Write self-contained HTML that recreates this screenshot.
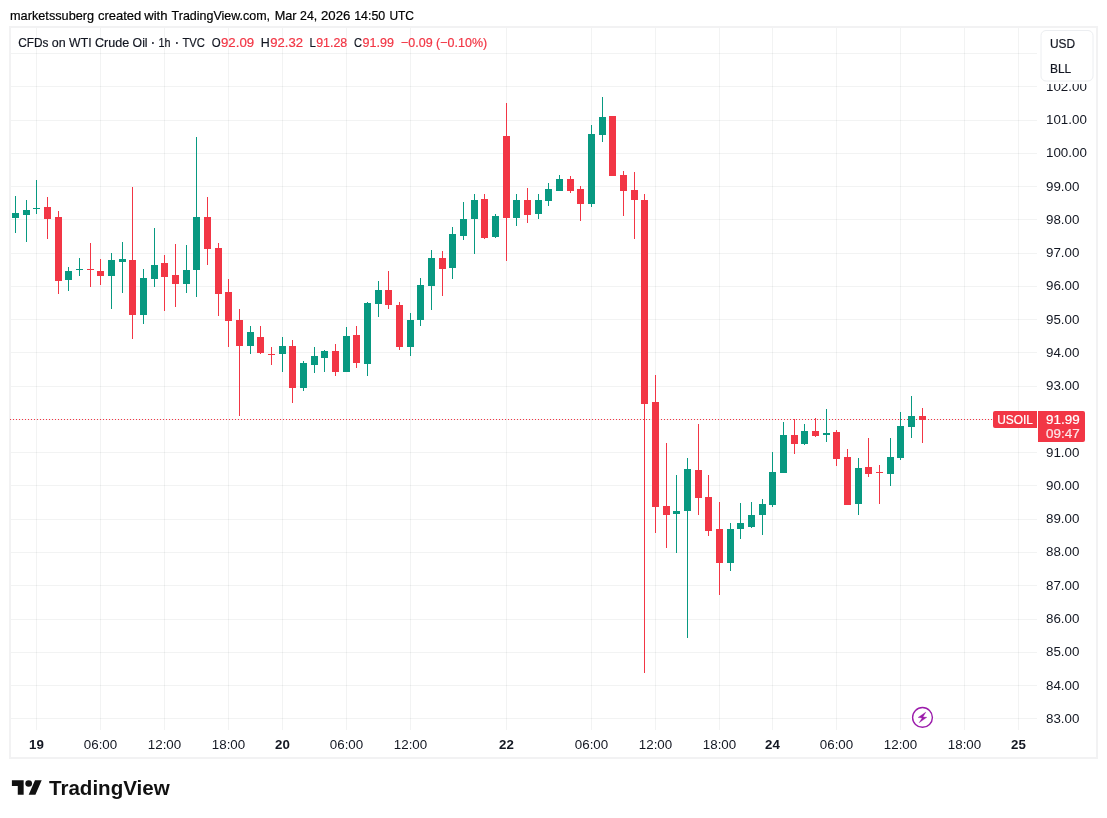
<!DOCTYPE html>
<html lang="en"><head><meta charset="utf-8"><title>CFDs on WTI Crude Oil</title><style>html,body{margin:0;padding:0;background:#fff}body{width:1107px;height:818px;overflow:hidden}</style></head><body>
<svg width="1107" height="818" viewBox="0 0 1107 818" style="display:block" font-family='"Liberation Sans", sans-serif'>
<rect width="1107" height="818" fill="#fff"/>
<g shape-rendering="crispEdges">
<rect x="10" y="27" width="1087" height="731" fill="#fff" stroke="#f2f2f3" stroke-width="2"/>
<rect x="11" y="718" width="1026" height="1" fill="rgba(42,46,57,0.06)"/>
<rect x="11" y="685" width="1026" height="1" fill="rgba(42,46,57,0.06)"/>
<rect x="11" y="652" width="1026" height="1" fill="rgba(42,46,57,0.06)"/>
<rect x="11" y="619" width="1026" height="1" fill="rgba(42,46,57,0.06)"/>
<rect x="11" y="585" width="1026" height="1" fill="rgba(42,46,57,0.06)"/>
<rect x="11" y="552" width="1026" height="1" fill="rgba(42,46,57,0.06)"/>
<rect x="11" y="519" width="1026" height="1" fill="rgba(42,46,57,0.06)"/>
<rect x="11" y="485" width="1026" height="1" fill="rgba(42,46,57,0.06)"/>
<rect x="11" y="452" width="1026" height="1" fill="rgba(42,46,57,0.06)"/>
<rect x="11" y="419" width="1026" height="1" fill="rgba(42,46,57,0.06)"/>
<rect x="11" y="386" width="1026" height="1" fill="rgba(42,46,57,0.06)"/>
<rect x="11" y="352" width="1026" height="1" fill="rgba(42,46,57,0.06)"/>
<rect x="11" y="319" width="1026" height="1" fill="rgba(42,46,57,0.06)"/>
<rect x="11" y="286" width="1026" height="1" fill="rgba(42,46,57,0.06)"/>
<rect x="11" y="253" width="1026" height="1" fill="rgba(42,46,57,0.06)"/>
<rect x="11" y="219" width="1026" height="1" fill="rgba(42,46,57,0.06)"/>
<rect x="11" y="186" width="1026" height="1" fill="rgba(42,46,57,0.06)"/>
<rect x="11" y="153" width="1026" height="1" fill="rgba(42,46,57,0.06)"/>
<rect x="11" y="120" width="1026" height="1" fill="rgba(42,46,57,0.06)"/>
<rect x="11" y="86" width="1026" height="1" fill="rgba(42,46,57,0.06)"/>
<rect x="11" y="53" width="1026" height="1" fill="rgba(42,46,57,0.06)"/>
<rect x="36" y="28" width="1" height="702" fill="rgba(42,46,57,0.06)"/>
<rect x="100" y="28" width="1" height="702" fill="rgba(42,46,57,0.06)"/>
<rect x="164" y="28" width="1" height="702" fill="rgba(42,46,57,0.06)"/>
<rect x="228" y="28" width="1" height="702" fill="rgba(42,46,57,0.06)"/>
<rect x="282" y="28" width="1" height="702" fill="rgba(42,46,57,0.06)"/>
<rect x="346" y="28" width="1" height="702" fill="rgba(42,46,57,0.06)"/>
<rect x="410" y="28" width="1" height="702" fill="rgba(42,46,57,0.06)"/>
<rect x="506" y="28" width="1" height="702" fill="rgba(42,46,57,0.06)"/>
<rect x="591" y="28" width="1" height="702" fill="rgba(42,46,57,0.06)"/>
<rect x="655" y="28" width="1" height="702" fill="rgba(42,46,57,0.06)"/>
<rect x="719" y="28" width="1" height="702" fill="rgba(42,46,57,0.06)"/>
<rect x="772" y="28" width="1" height="702" fill="rgba(42,46,57,0.06)"/>
<rect x="836" y="28" width="1" height="702" fill="rgba(42,46,57,0.06)"/>
<rect x="900" y="28" width="1" height="702" fill="rgba(42,46,57,0.06)"/>
<rect x="964" y="28" width="1" height="702" fill="rgba(42,46,57,0.06)"/>
<rect x="1018" y="28" width="1" height="702" fill="rgba(42,46,57,0.06)"/>
</g>
<line x1="10" y1="419.5" x2="1037" y2="419.5" stroke="#f23645" stroke-width="1" stroke-dasharray="1 2" shape-rendering="crispEdges"/>
<g shape-rendering="crispEdges">
<rect x="15" y="196" width="1" height="37" fill="#089981"/>
<rect x="12" y="213" width="7" height="5" fill="#089981"/>
<rect x="26" y="200" width="1" height="42" fill="#089981"/>
<rect x="23" y="210" width="7" height="5" fill="#089981"/>
<rect x="36" y="180" width="1" height="34" fill="#089981"/>
<rect x="33" y="208" width="7" height="1" fill="#089981"/>
<rect x="47" y="197" width="1" height="42" fill="#f23645"/>
<rect x="44" y="207" width="7" height="12" fill="#f23645"/>
<rect x="58" y="211" width="1" height="83" fill="#f23645"/>
<rect x="55" y="217" width="7" height="64" fill="#f23645"/>
<rect x="68" y="267" width="1" height="24" fill="#089981"/>
<rect x="65" y="271" width="7" height="9" fill="#089981"/>
<rect x="79" y="258" width="1" height="18" fill="#089981"/>
<rect x="76" y="269" width="7" height="1" fill="#089981"/>
<rect x="90" y="243" width="1" height="44" fill="#f23645"/>
<rect x="87" y="269" width="7" height="1" fill="#f23645"/>
<rect x="100" y="259" width="1" height="26" fill="#f23645"/>
<rect x="97" y="271" width="7" height="5" fill="#f23645"/>
<rect x="111" y="253" width="1" height="56" fill="#089981"/>
<rect x="108" y="260" width="7" height="16" fill="#089981"/>
<rect x="122" y="242" width="1" height="51" fill="#089981"/>
<rect x="119" y="259" width="7" height="3" fill="#089981"/>
<rect x="132" y="187" width="1" height="152" fill="#f23645"/>
<rect x="129" y="260" width="7" height="55" fill="#f23645"/>
<rect x="143" y="269" width="1" height="55" fill="#089981"/>
<rect x="140" y="278" width="7" height="37" fill="#089981"/>
<rect x="154" y="228" width="1" height="59" fill="#089981"/>
<rect x="151" y="265" width="7" height="14" fill="#089981"/>
<rect x="164" y="255" width="1" height="56" fill="#f23645"/>
<rect x="161" y="263" width="7" height="14" fill="#f23645"/>
<rect x="175" y="244" width="1" height="63" fill="#f23645"/>
<rect x="172" y="275" width="7" height="9" fill="#f23645"/>
<rect x="186" y="245" width="1" height="48" fill="#089981"/>
<rect x="183" y="270" width="7" height="14" fill="#089981"/>
<rect x="196" y="137" width="1" height="160" fill="#089981"/>
<rect x="193" y="217" width="7" height="53" fill="#089981"/>
<rect x="207" y="197" width="1" height="68" fill="#f23645"/>
<rect x="204" y="217" width="7" height="32" fill="#f23645"/>
<rect x="218" y="243" width="1" height="73" fill="#f23645"/>
<rect x="215" y="248" width="7" height="46" fill="#f23645"/>
<rect x="228" y="279" width="1" height="68" fill="#f23645"/>
<rect x="225" y="292" width="7" height="29" fill="#f23645"/>
<rect x="239" y="309" width="1" height="107" fill="#f23645"/>
<rect x="236" y="320" width="7" height="26" fill="#f23645"/>
<rect x="250" y="326" width="1" height="28" fill="#089981"/>
<rect x="247" y="332" width="7" height="14" fill="#089981"/>
<rect x="260" y="326" width="1" height="28" fill="#f23645"/>
<rect x="257" y="337" width="7" height="16" fill="#f23645"/>
<rect x="271" y="347" width="1" height="18" fill="#f23645"/>
<rect x="268" y="354" width="7" height="1" fill="#f23645"/>
<rect x="282" y="337" width="1" height="35" fill="#089981"/>
<rect x="279" y="346" width="7" height="8" fill="#089981"/>
<rect x="292" y="340" width="1" height="63" fill="#f23645"/>
<rect x="289" y="346" width="7" height="42" fill="#f23645"/>
<rect x="303" y="361" width="1" height="30" fill="#089981"/>
<rect x="300" y="363" width="7" height="25" fill="#089981"/>
<rect x="314" y="347" width="1" height="26" fill="#089981"/>
<rect x="311" y="356" width="7" height="9" fill="#089981"/>
<rect x="324" y="350" width="1" height="22" fill="#089981"/>
<rect x="321" y="351" width="7" height="7" fill="#089981"/>
<rect x="335" y="344" width="1" height="32" fill="#f23645"/>
<rect x="332" y="351" width="7" height="21" fill="#f23645"/>
<rect x="346" y="327" width="1" height="45" fill="#089981"/>
<rect x="343" y="336" width="7" height="36" fill="#089981"/>
<rect x="356" y="326" width="1" height="42" fill="#f23645"/>
<rect x="353" y="335" width="7" height="28" fill="#f23645"/>
<rect x="367" y="302" width="1" height="74" fill="#089981"/>
<rect x="364" y="303" width="7" height="61" fill="#089981"/>
<rect x="378" y="281" width="1" height="36" fill="#089981"/>
<rect x="375" y="290" width="7" height="14" fill="#089981"/>
<rect x="388" y="271" width="1" height="38" fill="#f23645"/>
<rect x="385" y="290" width="7" height="15" fill="#f23645"/>
<rect x="399" y="302" width="1" height="48" fill="#f23645"/>
<rect x="396" y="305" width="7" height="42" fill="#f23645"/>
<rect x="410" y="313" width="1" height="43" fill="#089981"/>
<rect x="407" y="320" width="7" height="27" fill="#089981"/>
<rect x="420" y="278" width="1" height="48" fill="#089981"/>
<rect x="417" y="285" width="7" height="35" fill="#089981"/>
<rect x="431" y="250" width="1" height="60" fill="#089981"/>
<rect x="428" y="258" width="7" height="28" fill="#089981"/>
<rect x="442" y="251" width="1" height="45" fill="#f23645"/>
<rect x="439" y="258" width="7" height="11" fill="#f23645"/>
<rect x="452" y="227" width="1" height="52" fill="#089981"/>
<rect x="449" y="234" width="7" height="34" fill="#089981"/>
<rect x="463" y="202" width="1" height="38" fill="#089981"/>
<rect x="460" y="219" width="7" height="17" fill="#089981"/>
<rect x="474" y="194" width="1" height="60" fill="#089981"/>
<rect x="471" y="200" width="7" height="19" fill="#089981"/>
<rect x="484" y="194" width="1" height="45" fill="#f23645"/>
<rect x="481" y="199" width="7" height="39" fill="#f23645"/>
<rect x="495" y="214" width="1" height="24" fill="#089981"/>
<rect x="492" y="216" width="7" height="21" fill="#089981"/>
<rect x="506" y="103" width="1" height="158" fill="#f23645"/>
<rect x="503" y="136" width="7" height="82" fill="#f23645"/>
<rect x="516" y="194" width="1" height="32" fill="#089981"/>
<rect x="513" y="200" width="7" height="18" fill="#089981"/>
<rect x="527" y="188" width="1" height="35" fill="#f23645"/>
<rect x="524" y="200" width="7" height="15" fill="#f23645"/>
<rect x="538" y="194" width="1" height="25" fill="#089981"/>
<rect x="535" y="200" width="7" height="14" fill="#089981"/>
<rect x="548" y="183" width="1" height="23" fill="#089981"/>
<rect x="545" y="189" width="7" height="12" fill="#089981"/>
<rect x="559" y="175" width="1" height="16" fill="#089981"/>
<rect x="556" y="179" width="7" height="12" fill="#089981"/>
<rect x="570" y="176" width="1" height="17" fill="#f23645"/>
<rect x="567" y="179" width="7" height="12" fill="#f23645"/>
<rect x="580" y="186" width="1" height="35" fill="#f23645"/>
<rect x="577" y="189" width="7" height="15" fill="#f23645"/>
<rect x="591" y="125" width="1" height="82" fill="#089981"/>
<rect x="588" y="134" width="7" height="70" fill="#089981"/>
<rect x="602" y="97" width="1" height="45" fill="#089981"/>
<rect x="599" y="117" width="7" height="18" fill="#089981"/>
<rect x="612" y="116" width="1" height="60" fill="#f23645"/>
<rect x="609" y="116" width="7" height="60" fill="#f23645"/>
<rect x="623" y="171" width="1" height="45" fill="#f23645"/>
<rect x="620" y="175" width="7" height="16" fill="#f23645"/>
<rect x="634" y="172" width="1" height="67" fill="#f23645"/>
<rect x="631" y="190" width="7" height="10" fill="#f23645"/>
<rect x="644" y="194" width="1" height="479" fill="#f23645"/>
<rect x="641" y="200" width="7" height="204" fill="#f23645"/>
<rect x="655" y="375" width="1" height="158" fill="#f23645"/>
<rect x="652" y="402" width="7" height="105" fill="#f23645"/>
<rect x="666" y="443" width="1" height="105" fill="#f23645"/>
<rect x="663" y="506" width="7" height="9" fill="#f23645"/>
<rect x="676" y="475" width="1" height="78" fill="#089981"/>
<rect x="673" y="511" width="7" height="3" fill="#089981"/>
<rect x="687" y="458" width="1" height="180" fill="#089981"/>
<rect x="684" y="469" width="7" height="42" fill="#089981"/>
<rect x="698" y="424" width="1" height="91" fill="#f23645"/>
<rect x="695" y="470" width="7" height="28" fill="#f23645"/>
<rect x="708" y="475" width="1" height="61" fill="#f23645"/>
<rect x="705" y="497" width="7" height="34" fill="#f23645"/>
<rect x="719" y="502" width="1" height="93" fill="#f23645"/>
<rect x="716" y="529" width="7" height="34" fill="#f23645"/>
<rect x="730" y="523" width="1" height="48" fill="#089981"/>
<rect x="727" y="529" width="7" height="34" fill="#089981"/>
<rect x="740" y="503" width="1" height="36" fill="#089981"/>
<rect x="737" y="523" width="7" height="6" fill="#089981"/>
<rect x="751" y="502" width="1" height="26" fill="#089981"/>
<rect x="748" y="515" width="7" height="12" fill="#089981"/>
<rect x="762" y="499" width="1" height="36" fill="#089981"/>
<rect x="759" y="504" width="7" height="11" fill="#089981"/>
<rect x="772" y="452" width="1" height="55" fill="#089981"/>
<rect x="769" y="472" width="7" height="33" fill="#089981"/>
<rect x="783" y="422" width="1" height="51" fill="#089981"/>
<rect x="780" y="435" width="7" height="38" fill="#089981"/>
<rect x="794" y="419" width="1" height="35" fill="#f23645"/>
<rect x="791" y="435" width="7" height="9" fill="#f23645"/>
<rect x="804" y="424" width="1" height="21" fill="#089981"/>
<rect x="801" y="431" width="7" height="13" fill="#089981"/>
<rect x="815" y="418" width="1" height="19" fill="#f23645"/>
<rect x="812" y="431" width="7" height="5" fill="#f23645"/>
<rect x="826" y="409" width="1" height="33" fill="#089981"/>
<rect x="823" y="433" width="7" height="2" fill="#089981"/>
<rect x="836" y="430" width="1" height="36" fill="#f23645"/>
<rect x="833" y="432" width="7" height="27" fill="#f23645"/>
<rect x="847" y="449" width="1" height="56" fill="#f23645"/>
<rect x="844" y="457" width="7" height="48" fill="#f23645"/>
<rect x="858" y="458" width="1" height="57" fill="#089981"/>
<rect x="855" y="468" width="7" height="36" fill="#089981"/>
<rect x="868" y="438" width="1" height="39" fill="#f23645"/>
<rect x="865" y="467" width="7" height="7" fill="#f23645"/>
<rect x="879" y="465" width="1" height="39" fill="#f23645"/>
<rect x="876" y="472" width="7" height="1" fill="#f23645"/>
<rect x="890" y="438" width="1" height="48" fill="#089981"/>
<rect x="887" y="457" width="7" height="17" fill="#089981"/>
<rect x="900" y="412" width="1" height="48" fill="#089981"/>
<rect x="897" y="426" width="7" height="32" fill="#089981"/>
<rect x="911" y="396" width="1" height="42" fill="#089981"/>
<rect x="908" y="416" width="7" height="11" fill="#089981"/>
<rect x="922" y="408" width="1" height="35" fill="#f23645"/>
<rect x="919" y="416" width="7" height="4" fill="#f23645"/>
</g>
<text transform="translate(10.00,20) scale(0.9793,1)" font-size="13" font-weight="normal" fill="#000" stroke="#000" stroke-width="0.2" >marketssuberg</text>
<text transform="translate(97.90,20) scale(0.9986,1)" font-size="13" font-weight="normal" fill="#000" stroke="#000" stroke-width="0.2" >created</text>
<text transform="translate(144.20,20) scale(1.0079,1)" font-size="13" font-weight="normal" fill="#000" stroke="#000" stroke-width="0.2" >with</text>
<text transform="translate(171.60,20) scale(0.9610,1)" font-size="13" font-weight="normal" fill="#000" stroke="#000" stroke-width="0.2" >TradingView.com,</text>
<text transform="translate(274.70,20) scale(0.9782,1)" font-size="13" font-weight="normal" fill="#000" stroke="#000" stroke-width="0.2" >Mar</text>
<text transform="translate(300.00,20) scale(0.9518,1)" font-size="13" font-weight="normal" fill="#000" stroke="#000" stroke-width="0.2" >24,</text>
<text transform="translate(321.00,20) scale(1.0166,1)" font-size="13" font-weight="normal" fill="#000" stroke="#000" stroke-width="0.2" >2026</text>
<text transform="translate(354.20,20) scale(0.9560,1)" font-size="13" font-weight="normal" fill="#000" stroke="#000" stroke-width="0.2" >14:50</text>
<text transform="translate(389.40,20) scale(0.9207,1)" font-size="13" font-weight="normal" fill="#000" stroke="#000" stroke-width="0.2" >UTC</text>
<text transform="translate(18.20,47) scale(0.9122,1)" font-size="13" font-weight="normal" fill="#131722" stroke="#131722" stroke-width="0.2" >CFDs</text>
<text transform="translate(51.80,47) scale(0.9613,1)" font-size="13" font-weight="normal" fill="#131722" stroke="#131722" stroke-width="0.2" >on</text>
<text transform="translate(69.10,47) scale(0.9445,1)" font-size="13" font-weight="normal" fill="#131722" stroke="#131722" stroke-width="0.2" >WTI</text>
<text transform="translate(95.00,47) scale(0.9659,1)" font-size="13" font-weight="normal" fill="#131722" stroke="#131722" stroke-width="0.2" >Crude</text>
<text transform="translate(132.60,47) scale(0.9441,1)" font-size="13" font-weight="normal" fill="#131722" stroke="#131722" stroke-width="0.2" >Oil</text>
<text transform="translate(150.60,48.2) scale(0.8008,1)" font-size="18" font-weight="normal" fill="#131722" stroke="#131722" stroke-width="0.2" >·</text>
<text transform="translate(158.60,47) scale(0.8299,1)" font-size="13" font-weight="normal" fill="#131722" stroke="#131722" stroke-width="0.2" >1h</text>
<text transform="translate(174.60,48.2) scale(0.8008,1)" font-size="18" font-weight="normal" fill="#131722" stroke="#131722" stroke-width="0.2" >·</text>
<text transform="translate(182.50,47) scale(0.8615,1)" font-size="13" font-weight="normal" fill="#131722" stroke="#131722" stroke-width="0.2" >TVC</text>
<text transform="translate(211.80,47) scale(0.8802,1)" font-size="13" font-weight="normal" fill="#131722" stroke="#131722" stroke-width="0.2" >O</text>
<text transform="translate(221.00,47) scale(1.0205,1)" font-size="13" font-weight="normal" fill="#f23645" stroke="#f23645" stroke-width="0.2" >92.09</text>
<text transform="translate(260.80,47) scale(0.9586,1)" font-size="13" font-weight="normal" fill="#131722" stroke="#131722" stroke-width="0.2" >H</text>
<text transform="translate(270.20,47) scale(1.0082,1)" font-size="13" font-weight="normal" fill="#f23645" stroke="#f23645" stroke-width="0.2" >92.32</text>
<text transform="translate(309.60,47) scale(0.8852,1)" font-size="13" font-weight="normal" fill="#131722" stroke="#131722" stroke-width="0.2" >L</text>
<text transform="translate(316.20,47) scale(0.9529,1)" font-size="13" font-weight="normal" fill="#f23645" stroke="#f23645" stroke-width="0.2" >91.28</text>
<text transform="translate(354.00,47) scale(0.8521,1)" font-size="13" font-weight="normal" fill="#131722" stroke="#131722" stroke-width="0.2" >C</text>
<text transform="translate(362.60,47) scale(0.9652,1)" font-size="13" font-weight="normal" fill="#f23645" stroke="#f23645" stroke-width="0.2" >91.99</text>
<text transform="translate(401.00,47) scale(0.9619,1)" font-size="13" font-weight="normal" fill="#f23645" stroke="#f23645" stroke-width="0.2" >−0.09 (−0.10%)</text>
<text transform="translate(1046.00,722.8) scale(1.0678,1)" font-size="12.5" font-weight="normal" fill="#131722" stroke="#131722" stroke-width="0" >83.00</text>
<text transform="translate(1046.00,689.53) scale(1.0678,1)" font-size="12.5" font-weight="normal" fill="#131722" stroke="#131722" stroke-width="0" >84.00</text>
<text transform="translate(1046.00,656.27) scale(1.0678,1)" font-size="12.5" font-weight="normal" fill="#131722" stroke="#131722" stroke-width="0" >85.00</text>
<text transform="translate(1046.00,623.01) scale(1.0678,1)" font-size="12.5" font-weight="normal" fill="#131722" stroke="#131722" stroke-width="0" >86.00</text>
<text transform="translate(1046.00,589.75) scale(1.0678,1)" font-size="12.5" font-weight="normal" fill="#131722" stroke="#131722" stroke-width="0" >87.00</text>
<text transform="translate(1046.00,556.48) scale(1.0678,1)" font-size="12.5" font-weight="normal" fill="#131722" stroke="#131722" stroke-width="0" >88.00</text>
<text transform="translate(1046.00,523.22) scale(1.0678,1)" font-size="12.5" font-weight="normal" fill="#131722" stroke="#131722" stroke-width="0" >89.00</text>
<text transform="translate(1046.00,489.96) scale(1.0678,1)" font-size="12.5" font-weight="normal" fill="#131722" stroke="#131722" stroke-width="0" >90.00</text>
<text transform="translate(1046.00,456.69) scale(1.0678,1)" font-size="12.5" font-weight="normal" fill="#131722" stroke="#131722" stroke-width="0" >91.00</text>
<text transform="translate(1046.00,423.43) scale(1.0678,1)" font-size="12.5" font-weight="normal" fill="#131722" stroke="#131722" stroke-width="0" >92.00</text>
<text transform="translate(1046.00,390.17) scale(1.0678,1)" font-size="12.5" font-weight="normal" fill="#131722" stroke="#131722" stroke-width="0" >93.00</text>
<text transform="translate(1046.00,356.9) scale(1.0678,1)" font-size="12.5" font-weight="normal" fill="#131722" stroke="#131722" stroke-width="0" >94.00</text>
<text transform="translate(1046.00,323.64) scale(1.0678,1)" font-size="12.5" font-weight="normal" fill="#131722" stroke="#131722" stroke-width="0" >95.00</text>
<text transform="translate(1046.00,290.38) scale(1.0678,1)" font-size="12.5" font-weight="normal" fill="#131722" stroke="#131722" stroke-width="0" >96.00</text>
<text transform="translate(1046.00,257.12) scale(1.0678,1)" font-size="12.5" font-weight="normal" fill="#131722" stroke="#131722" stroke-width="0" >97.00</text>
<text transform="translate(1046.00,223.85) scale(1.0678,1)" font-size="12.5" font-weight="normal" fill="#131722" stroke="#131722" stroke-width="0" >98.00</text>
<text transform="translate(1046.00,190.59) scale(1.0678,1)" font-size="12.5" font-weight="normal" fill="#131722" stroke="#131722" stroke-width="0" >99.00</text>
<text transform="translate(1046.00,157.33) scale(1.0698,1)" font-size="12.5" font-weight="normal" fill="#131722" stroke="#131722" stroke-width="0" >100.00</text>
<text transform="translate(1046.00,124.06) scale(1.0698,1)" font-size="12.5" font-weight="normal" fill="#131722" stroke="#131722" stroke-width="0" >101.00</text>
<text transform="translate(1046.00,90.8) scale(1.0698,1)" font-size="12.5" font-weight="normal" fill="#131722" stroke="#131722" stroke-width="0" >102.00</text>
<rect x="1038" y="28" width="58" height="56" fill="#fff"/>
<rect x="1041" y="30.5" width="52" height="50.5" rx="5" fill="#fff" stroke="#eceef1" stroke-width="1"/>
<text transform="translate(1050.00,47.8) scale(0.9946,1)" font-size="12" font-weight="normal" fill="#131722" stroke="#131722" stroke-width="0.2" >USD</text>
<text transform="translate(1050.00,72.5) scale(0.9976,1)" font-size="12" font-weight="normal" fill="#131722" stroke="#131722" stroke-width="0.2" >BLL</text>
<path d="M995 411h42v17h-42a2 2 0 0 1-2-2v-13a2 2 0 0 1 2-2z" fill="#f23645"/>
<path d="M1038 411h45a2 2 0 0 1 2 2v27a2 2 0 0 1-2 2h-45z" fill="#f23645"/>
<text transform="translate(997.20,423.8) scale(0.9941,1)" font-size="12" font-weight="normal" fill="#fff" stroke="#fff" stroke-width="0.2" >USOIL</text>
<text transform="translate(1046.00,423.8) scale(1.0741,1)" font-size="12.5" font-weight="normal" fill="#fff" stroke="#fff" stroke-width="0.2" >91.99</text>
<text transform="translate(1046.00,437.8) scale(1.0741,1)" font-size="12.5" font-weight="normal" fill="#fff" stroke="#fff" stroke-width="0.2" fill-opacity="0.82">09:47</text>
<text transform="translate(29.10,749.2) scale(1.0644,1)" font-size="12.5" font-weight="bold" fill="#131722" stroke="#131722" stroke-width="0" >19</text>
<text transform="translate(275.10,749.2) scale(1.0644,1)" font-size="12.5" font-weight="bold" fill="#131722" stroke="#131722" stroke-width="0" >20</text>
<text transform="translate(499.10,749.2) scale(1.0644,1)" font-size="12.5" font-weight="bold" fill="#131722" stroke="#131722" stroke-width="0" >22</text>
<text transform="translate(765.10,749.2) scale(1.0644,1)" font-size="12.5" font-weight="bold" fill="#131722" stroke="#131722" stroke-width="0" >24</text>
<text transform="translate(1011.10,749.2) scale(1.0644,1)" font-size="12.5" font-weight="bold" fill="#131722" stroke="#131722" stroke-width="0" >25</text>
<text transform="translate(83.80,749.2) scale(1.0678,1)" font-size="12.5" font-weight="normal" fill="#131722" stroke="#131722" stroke-width="0" >06:00</text>
<text transform="translate(147.80,749.2) scale(1.0678,1)" font-size="12.5" font-weight="normal" fill="#131722" stroke="#131722" stroke-width="0" >12:00</text>
<text transform="translate(211.80,749.2) scale(1.0678,1)" font-size="12.5" font-weight="normal" fill="#131722" stroke="#131722" stroke-width="0" >18:00</text>
<text transform="translate(329.80,749.2) scale(1.0678,1)" font-size="12.5" font-weight="normal" fill="#131722" stroke="#131722" stroke-width="0" >06:00</text>
<text transform="translate(393.80,749.2) scale(1.0678,1)" font-size="12.5" font-weight="normal" fill="#131722" stroke="#131722" stroke-width="0" >12:00</text>
<text transform="translate(574.80,749.2) scale(1.0678,1)" font-size="12.5" font-weight="normal" fill="#131722" stroke="#131722" stroke-width="0" >06:00</text>
<text transform="translate(638.80,749.2) scale(1.0678,1)" font-size="12.5" font-weight="normal" fill="#131722" stroke="#131722" stroke-width="0" >12:00</text>
<text transform="translate(702.80,749.2) scale(1.0678,1)" font-size="12.5" font-weight="normal" fill="#131722" stroke="#131722" stroke-width="0" >18:00</text>
<text transform="translate(819.80,749.2) scale(1.0678,1)" font-size="12.5" font-weight="normal" fill="#131722" stroke="#131722" stroke-width="0" >06:00</text>
<text transform="translate(883.80,749.2) scale(1.0678,1)" font-size="12.5" font-weight="normal" fill="#131722" stroke="#131722" stroke-width="0" >12:00</text>
<text transform="translate(947.80,749.2) scale(1.0678,1)" font-size="12.5" font-weight="normal" fill="#131722" stroke="#131722" stroke-width="0" >18:00</text>
<circle cx="922.5" cy="717.4" r="11.8" fill="#fff"/>
<circle cx="922.5" cy="717.4" r="9.9" fill="#fff" stroke="#9b1bab" stroke-width="1.4"/>
<path d="M925.9 712.1L918.0 717.5L922.1 718.0L919.1 722.8L926.9 717.3L923.0 716.9Z" fill="#9b1bab" stroke="#9b1bab" stroke-width="0.3" stroke-linejoin="round"/>
<g transform="translate(11.9,777.05) scale(0.8395,0.806)" fill="#111"><path d="M14 22H7V11H0V4h14v18zM28 22h-8l7.5-18h8L28 22z"/><circle cx="20" cy="8" r="4"/></g>
<text transform="translate(49.00,794.8) scale(1.0134,1)" font-size="20.3" font-weight="bold" fill="#111" stroke="#111" stroke-width="0" >TradingView</text>
</svg>
</body></html>
